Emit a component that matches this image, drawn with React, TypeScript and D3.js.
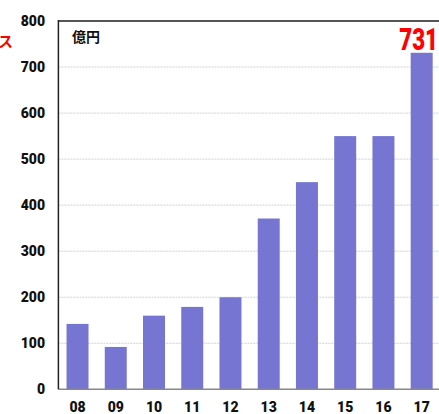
import { useEffect, useRef } from 'react';
import * as d3 from 'd3';

const years = ['08', '09', '10', '11', '12', '13', '14', '15', '16', '17'];
const values = [142, 92, 160, 179, 200, 371, 450, 550, 550, 731];
const yTicks = [0, 100, 200, 300, 400, 500, 600, 700, 800];
const unitLabel = '億円';
const highlightLabel = '731';
const sideLabel = 'ス';

const App: React.FC = () => {
  const chartRef = useRef<SVGSVGElement | null>(null);

  useEffect(() => {
    if (!chartRef.current) return;
    const svg = d3.select(chartRef.current);
    svg.selectAll('*').remove();

    const left = 58.4;
    const right = 440.8;
    const top = 21;
    const bottom = 389.3;

    const x = d3.scaleBand<string>()
      .domain(years)
      .range([left, right])
      .paddingInner(0.425)
      .paddingOuter(0.2125);

    const y = d3.scaleLinear()
      .domain([0, 800])
      .range([bottom, top]);

    // gridlines
    svg.append('g')
      .selectAll('line')
      .data(yTicks.filter(t => t > 0 && t < 800))
      .enter().append('line')
      .attr('x1', left)
      .attr('x2', right)
      .attr('y1', d => y(d))
      .attr('y2', d => y(d))
      .attr('stroke', '#d0d0d0')
      .attr('stroke-width', 1)
      .attr('stroke-dasharray', '2,1');

    // top border
    svg.append('line')
      .attr('x1', left).attr('x2', right)
      .attr('y1', y(800)).attr('y2', y(800))
      .attr('stroke', '#555').attr('stroke-width', 2);

    // bars
    svg.append('g')
      .selectAll('rect')
      .data(values)
      .enter().append('rect')
      .attr('x', (_, i) => x(years[i])!)
      .attr('y', d => y(d))
      .attr('width', x.bandwidth())
      .attr('height', d => bottom - y(d))
      .attr('fill', '#7676d2');

    // bottom axis
    svg.append('line')
      .attr('x1', left).attr('x2', right)
      .attr('y1', bottom).attr('y2', bottom)
      .attr('stroke', '#888').attr('stroke-width', 1.5);

    // left axis
    svg.append('line')
      .attr('x1', left).attr('x2', left)
      .attr('y1', top - 1).attr('y2', bottom)
      .attr('stroke', '#222').attr('stroke-width', 1.5);

    // y labels
    svg.append('g')
      .selectAll('text')
      .data(yTicks)
      .enter().append('text')
      .attr('x', 45)
      .attr('y', d => y(d) + 5)
      .attr('text-anchor', 'end')
      .attr('font-family', 'Roboto, sans-serif')
      .attr('font-weight', 900)
      .attr('font-size', 14)
      .attr('fill', '#111')
      .text(d => d);

    // x labels
    svg.append('g')
      .selectAll('text')
      .data(years)
      .enter().append('text')
      .attr('x', d => x(d)! + x.bandwidth() / 2)
      .attr('y', 412)
      .attr('text-anchor', 'middle')
      .attr('font-family', 'Roboto, sans-serif')
      .attr('font-weight', 900)
      .attr('font-size', 14)
      .attr('fill', '#111')
      .text(d => d);

    // unit label
    svg.append('text')
      .attr('x', 72)
      .attr('y', 42)
      .attr('font-family', '"Noto Sans CJK JP", sans-serif')
      .attr('font-weight', 700)
      .attr('font-size', 14)
      .attr('fill', '#111')
      .text(unitLabel);

    // highlight value (condensed, tall)
    svg.append('text')
      .attr('transform', `translate(438,${y(values[values.length - 1]) - 3}) scale(0.72,1)`)
      .attr('text-anchor', 'end')
      .attr('font-family', 'Roboto, sans-serif')
      .attr('font-weight', 900)
      .attr('font-size', 31)
      .attr('fill', '#ff0000')
      .text(highlightLabel);

    // cut-off side label
    svg.append('text')
      .attr('x', 13)
      .attr('y', 47)
      .attr('text-anchor', 'end')
      .attr('font-family', '"Noto Sans CJK JP", sans-serif')
      .attr('font-weight', 700)
      .attr('font-size', 15)
      .attr('fill', '#ff0000')
      .text(sideLabel);
  }, []);

  return (
    <svg
      ref={chartRef}
      width={439}
      height={414}
      style={{ position: 'absolute', left: 0, top: 0, background: '#fff' }}
    />
  );
};

export default App;
